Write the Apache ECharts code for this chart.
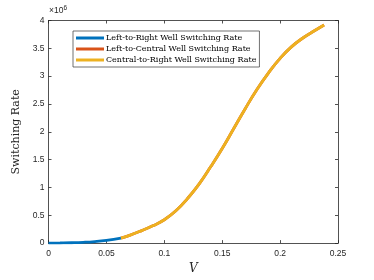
<!DOCTYPE html>
<html><head><meta charset="utf-8">
<script src="https://cdn.jsdelivr.net/npm/echarts@6/dist/echarts.min.js"></script>
<style>html,body{margin:0;padding:0;background:#fff}#c{width:374px;height:280px}</style>
</head><body><div id="c"></div>
<script>
// values in units of 1e6
const seriesNames = ['Left-to-Right Well Switching Rate','Left-to-Central Well Switching Rate','Central-to-Right Well Switching Rate'];
const leftRightV = [0, 0.01, 0.02, 0.03, 0.04, 0.05, 0.0625];
const leftRightRate = [0, 0.002, 0.006, 0.014, 0.028, 0.05, 0.09];
const centralRightV = [0.0625, 0.07, 0.08, 0.09, 0.1, 0.11, 0.12, 0.13, 0.14, 0.15, 0.16, 0.17, 0.18, 0.19, 0.2, 0.21, 0.22, 0.23, 0.238];
const centralRightRate = [0.09, 0.14, 0.22, 0.31, 0.42, 0.58, 0.8, 1.06, 1.37, 1.7, 2.06, 2.42, 2.76, 3.06, 3.32, 3.53, 3.69, 3.82, 3.92];
const leftCentralV = centralRightV;
const leftCentralRate = centralRightRate;
const xTicks = [0, 0.05, 0.1, 0.15, 0.2, 0.25];
const yTicks = [0, 0.5, 1, 1.5, 2, 2.5, 3, 3.5, 4];
const colors = ['#0072BD', '#D95319', '#EDB120'];

const zip = (a, b) => a.map((v, i) => [v, b[i]]);
const axisColor = '#262626';
const chart = echarts.init(document.getElementById('c'));
const baseX = {type:'value', min:xTicks[0], max:xTicks[xTicks.length-1], interval:0.05,
  axisLine:{show:true, onZero:false, lineStyle:{color:axisColor, width:0.8}},
  axisTick:{show:true, inside:true, length:3, lineStyle:{color:axisColor, width:0.8}},
  splitLine:{show:false}};
const baseY = {type:'value', min:yTicks[0], max:yTicks[yTicks.length-1], interval:0.5,
  axisLine:{show:true, onZero:false, lineStyle:{color:axisColor, width:0.8}},
  axisTick:{show:true, inside:true, length:3, lineStyle:{color:axisColor, width:0.8}},
  splitLine:{show:false}};
chart.setOption({
  animation:false,
  grid:{left:48.5, right:36, top:20.5, bottom:31, containLabel:false},
  xAxis:[
    Object.assign({}, baseX, {position:'bottom',
      axisLabel:{show:true, color:axisColor, fontFamily:'Liberation Sans, Arial', fontSize:8.5, margin:6,
        formatter:v=>String(Math.round(v*100)/100)},
      name:'V', nameLocation:'middle', nameGap:17,
      nameTextStyle:{fontFamily:'DejaVu Serif', fontStyle:'italic', fontSize:12, color:axisColor}}),
    Object.assign({}, baseX, {position:'top', axisLabel:{show:false}})
  ],
  yAxis:[
    Object.assign({}, baseY, {position:'left',
      axisLabel:{show:true, color:axisColor, fontFamily:'Liberation Sans, Arial', fontSize:8.5, margin:4,
        formatter:v=>String(v)},
      name:'Switching Rate', nameLocation:'middle', nameGap:27,
      nameTextStyle:{fontFamily:'DejaVu Serif', fontSize:11, color:axisColor}}),
    Object.assign({}, baseY, {position:'right', axisLabel:{show:false}})
  ],
  legend:{
    orient:'vertical', left:73, top:31, itemWidth:28, itemHeight:3, itemGap:3,
    icon:'rect', padding:[3,3,3,3], borderColor:'#333', borderWidth:0.7, backgroundColor:'#fff',
    textStyle:{fontFamily:'DejaVu Serif', fontSize:8, color:'#000', padding:[0,0,0,-3]},
    data:seriesNames
  },
  graphic:[{type:'text', left:49, top:5, style:{
    text:'{a|×10}{b|6}', rich:{a:{fontFamily:'Liberation Sans, Arial', fontSize:8.5, fill:axisColor},
      b:{fontFamily:'Liberation Sans, Arial', fontSize:6.5, fill:axisColor, verticalAlign:'top', padding:[0,0,5,0]}}}}],
  series:[
    {name:seriesNames[1], type:'line', data:zip(leftCentralV, leftCentralRate), showSymbol:false, smooth:true,
      lineStyle:{color:colors[1], width:2.8}, itemStyle:{color:colors[1]}, z:2},
    {name:seriesNames[2], type:'line', data:zip(centralRightV, centralRightRate), showSymbol:false, smooth:true,
      lineStyle:{color:colors[2], width:2.8}, itemStyle:{color:colors[2]}, z:3},
    {name:seriesNames[0], type:'line', data:zip(leftRightV, leftRightRate), showSymbol:false, smooth:true,
      lineStyle:{color:colors[0], width:2.8}, itemStyle:{color:colors[0]}, z:4}
  ]
});
</script></body></html>
